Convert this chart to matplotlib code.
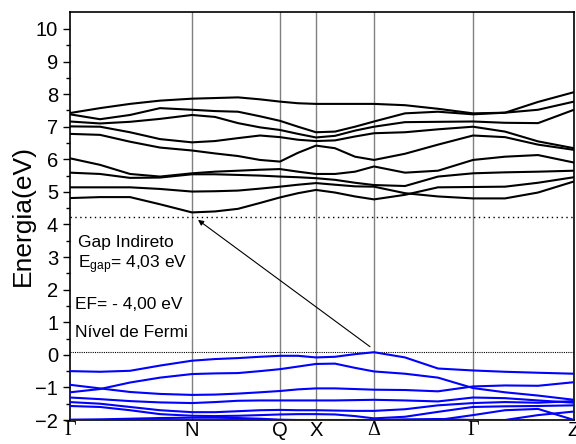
import matplotlib.pyplot as plt

plt.rcParams['font.family'] = ['Liberation Sans', 'DejaVu Sans']
plt.rcParams['mathtext.default'] = 'regular'

# caminho no espaco k (unidades arbitrarias)
k = [0, 30, 60, 90, 122, 145, 168, 190, 210, 228, 246, 265, 285, 304,
     335, 368, 403, 435, 468, 504]
pontos_k = [0, 122, 210, 246, 304, 403, 504]
rotulos_k = ['Γ', 'N', 'Q', 'X', 'Δ', 'Γ', 'Z']

# bandas de conducao (eV)
c1 = [4.81, 4.84, 4.84, 4.62, 4.37, 4.40, 4.48, 4.66, 4.83, 4.96, 5.06, 4.98, 4.86, 4.77,
      4.91, 5.14, 5.15, 5.16, 5.28, 5.45]
c2 = [5.14, 5.14, 5.14, 5.09, 5.01, 5.02, 5.04, 5.10, 5.16, 5.22, 5.27, 5.22, 5.17, 5.16,
      4.96, 4.86, 4.80, 4.80, 4.98, 5.32]
c3 = [5.59, 5.55, 5.43, 5.44, 5.54, 5.54, 5.52, 5.50, 5.47, 5.45, 5.42, 5.37, 5.28, 5.21,
      5.18, 5.47, 5.57, 5.60, 5.62, 5.65]
c4 = [6.03, 5.83, 5.55, 5.47, 5.57, 5.62, 5.65, 5.68, 5.70, 5.62, 5.55, 5.55, 5.62, 5.78,
      5.59, 5.65, 5.98, 6.08, 6.13, 5.90]
c5 = [6.78, 6.75, 6.54, 6.36, 6.27, 6.18, 6.10, 5.98, 5.93, 6.20, 6.42, 6.34, 6.08, 5.98,
      6.17, 6.45, 6.73, 6.68, 6.45, 6.29]
c6 = [7.01, 7.00, 6.83, 6.62, 6.52, 6.56, 6.65, 6.73, 6.68, 6.60, 6.56, 6.58, 6.70, 6.80,
      6.83, 6.92, 7.00, 6.85, 6.55, 6.34]
c7 = [7.16, 7.10, 7.15, 7.24, 7.36, 7.30, 7.11, 6.98, 6.90, 6.78, 6.67, 6.72, 6.88, 7.00,
      7.14, 7.15, 7.16, 7.12, 7.11, 7.52]
c8 = [7.38, 7.23, 7.36, 7.57, 7.52, 7.48, 7.46, 7.32, 7.18, 7.00, 6.83, 6.85, 7.00, 7.16,
      7.41, 7.46, 7.38, 7.43, 7.52, 7.77]
c9 = [7.42, 7.57, 7.70, 7.80, 7.86, 7.88, 7.90, 7.84, 7.77, 7.72, 7.70, 7.70, 7.70, 7.70,
      7.66, 7.55, 7.41, 7.43, 7.76, 8.06]

# bandas de valencia (eV)
v1 = [-0.50, -0.52, -0.49, -0.33, -0.18, -0.13, -0.10, -0.06, -0.03, -0.03, -0.08, -0.06,
      0.02, 0.08, -0.08, -0.42, -0.48, -0.52, -0.55, -0.58]
v2 = [-0.92, -1.03, -1.14, -1.20, -1.23, -1.22, -1.19, -1.15, -1.11, -1.06, -1.03, -1.03,
      -1.05, -1.07, -1.08, -1.12, -0.97, -0.94, -0.95, -0.84]
v3 = [-1.15, -1.05, -0.85, -0.70, -0.59, -0.57, -0.56, -0.50, -0.44, -0.36, -0.28, -0.27,
      -0.40, -0.51, -0.58, -0.70, -1.02, -1.15, -1.25, -1.38]
v4 = [-1.31, -1.36, -1.42, -1.46, -1.48, -1.45, -1.41, -1.40, -1.40, -1.40, -1.40, -1.40,
      -1.39, -1.38, -1.40, -1.43, -1.31, -1.33, -1.40, -1.47]
v5 = [-1.45, -1.50, -1.60, -1.70, -1.76, -1.76, -1.73, -1.70, -1.69, -1.70, -1.70, -1.71,
      -1.72, -1.72, -1.67, -1.55, -1.48, -1.45, -1.47, -1.42]
v6 = [-1.57, -1.60, -1.70, -1.82, -1.87, -1.88, -1.87, -1.85, -1.83, -1.82, -1.82, -1.83,
      -1.88, -1.95, -1.90, -1.75, -1.60, -1.58, -1.57, -1.55]
v7 = [-1.99, -1.98, -1.96, -1.94, -1.93, -1.93, -1.94, -1.96, -1.99, -2.00, -2.00, -2.00,
      -2.00, -2.00, -1.98, -1.97, -2.00, -2.00, -1.85, -1.74]
v8 = [-2.30, -2.30, -2.30, -2.30, -2.30, -2.30, -2.30, -2.30, -2.30, -2.30, -2.30, -2.30,
      -2.30, -2.30, -2.20, -2.00, -1.85, -1.70, -1.66, -2.00]

conducao = [c1, c2, c3, c4, c5, c6, c7, c8, c9]
valencia = [v1, v2, v3, v4, v5, v6, v7, v8]

e_cbm = 4.23
e_fermi = 0.10

fig = plt.figure(figsize=(5.76, 4.44), dpi=100)
ax = fig.add_axes([70 / 576, 24 / 444, 504 / 576, 408 / 444])

for p in pontos_k[1:-1]:
    ax.axvline(p, color='#808080', lw=1.0, zorder=1)

for banda in conducao:
    ax.plot(k, banda, color='black', lw=1.5, zorder=3)
for banda in valencia:
    ax.plot(k, banda, color='#0000ff', lw=1.5, zorder=3)

ax.axhline(e_cbm, color='black', ls=(0, (1, 2.5)), lw=1.0, zorder=2)
ax.axhline(e_fermi, color='black', ls=(0, (1, 1)), lw=0.8, zorder=2)

# seta do gap indireto (Delta -> N)
ax.annotate('', xy=(128, 4.14), xytext=(300, 0.25),
            arrowprops=dict(arrowstyle='-|>', color='black', lw=0.8,
                            mutation_scale=8, shrinkA=0, shrinkB=0))

ax.text(8, 3.44, 'Gap Indireto', fontsize=12.5, va='center')
ax.text(8, 2.76, 'E$_{gap}$= 4,03 eV', fontsize=12.5, va='center')
ax.text(5, 1.53, 'EF= - 4,00 eV', fontsize=12.5, va='center')
ax.text(5, 0.67, 'Nível de Fermi', fontsize=12.5, va='center')

ax.set_xlim(0, 504)
ax.set_ylim(-2, 10.52)
ax.set_yticks(range(-2, 11))
ax.set_yticks([y + 0.5 for y in range(-2, 10)], minor=True)
ax.tick_params(axis='y', which='major', direction='out', length=5, labelsize=14.5, width=1)
ax.tick_params(axis='y', which='minor', direction='out', length=3, width=1)
ax.set_ylabel('Energia(eV)', fontsize=19, labelpad=0)

ax.set_xticks(pontos_k)
ax.set_xticklabels(rotulos_k)
ax.tick_params(axis='x', length=0, pad=1, labelsize=14.5)
for lab in ax.get_xticklabels():
    if lab.get_text() in ('Γ', 'Δ'):
        lab.set_family('Liberation Serif')

for s in ax.spines.values():
    s.set_linewidth(1.2)

fig.savefig('out.png', dpi=100)
